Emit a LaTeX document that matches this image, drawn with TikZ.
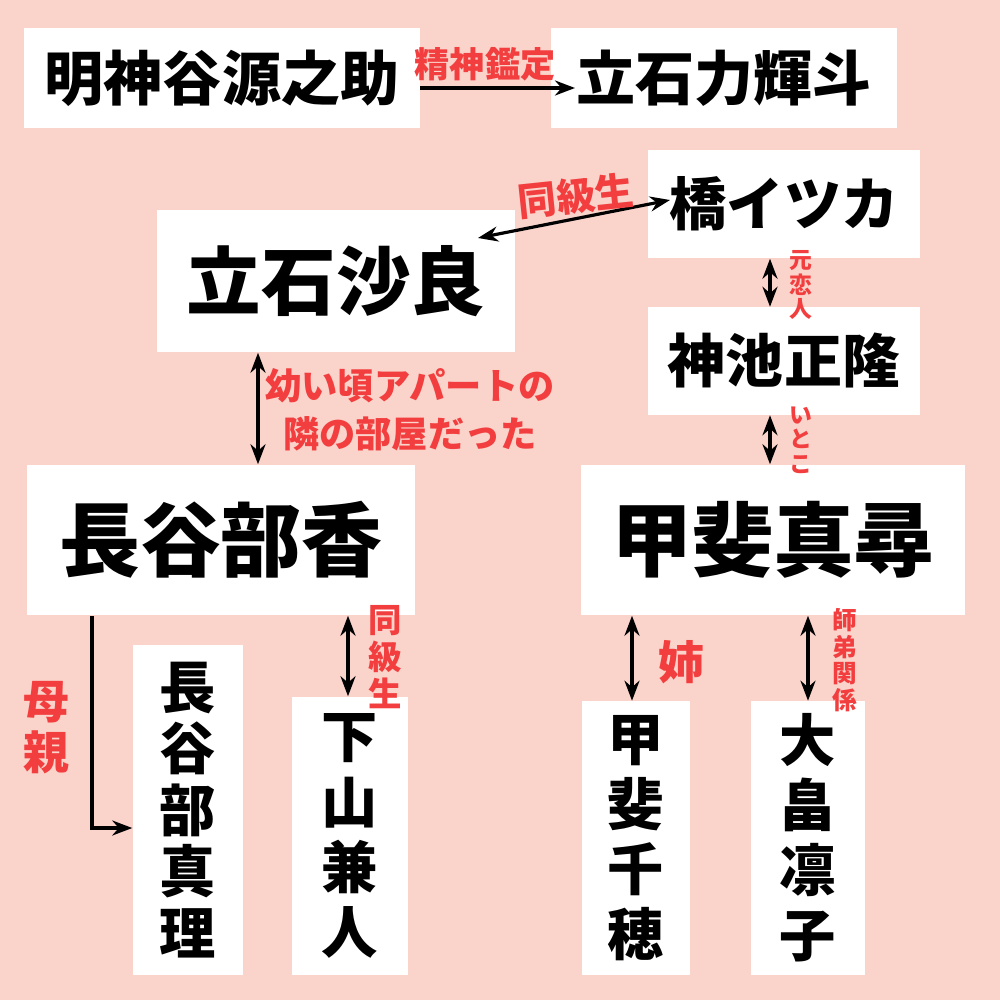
\documentclass[tikz,border=0pt]{standalone}
\usepackage{fontspec}
\setmainfont{Noto Sans CJK JP}
\usetikzlibrary{arrows.meta}
\definecolor{bgpink}{HTML}{FAD3CB}
\definecolor{tagred}{HTML}{F23E3E}
\tikzset{
  person/.style={fill=white, inner sep=0pt, font=\bfseries, align=center},
  tag/.style={text=tagred, font=\bfseries, inner sep=0pt, align=center},
  rel/.style={draw=black, line width=0.9pt, {Stealth[length=2mm]}-{Stealth[length=2mm]}},
  relone/.style={draw=black, line width=0.9pt, -{Stealth[length=2mm]}},
}
\begin{document}
\begin{tikzpicture}[x=0.01cm, y=-0.01cm]
  \fill[bgpink] (0,0) rectangle (1000,1000);
  \useasboundingbox (0,0) rectangle (1000,1000);

  % people
  \node[person, minimum width=3.95cm, minimum height=0.99cm, font=\bfseries\fontsize{16.8}{18}\selectfont] (myojin) at (222,78) {明神谷源之助};
  \node[person, minimum width=3.45cm, minimum height=1cm, font=\bfseries\fontsize{16.8}{18}\selectfont] (rikito) at (724,78) {立石力輝斗};
  \node[person, minimum width=2.72cm, minimum height=1.08cm, font=\bfseries\fontsize{16.3}{18}\selectfont] (itsuka) at (784,204) {橋イツカ};
  \node[person, minimum width=3.57cm, minimum height=1.42cm, font=\bfseries\fontsize{21.2}{23}\selectfont] (sara) at (336,281) {立石沙良};
  \node[person, minimum width=2.72cm, minimum height=1.07cm, font=\bfseries\fontsize{16.5}{18}\selectfont] (kamiike) at (784,361) {神池正隆};
  \node[person, minimum width=3.87cm, minimum height=1.5cm, font=\bfseries\fontsize{23}{25}\selectfont] (kaori) at (221,540) {長谷部香};
  \node[person, minimum width=3.83cm, minimum height=1.5cm, font=\bfseries\fontsize{23}{25}\selectfont] (mahiro) at (773,540) {甲斐真尋};
  \node[person, minimum width=1.1cm, minimum height=3.3cm, font=\bfseries\fontsize{16}{17.5}\selectfont] (mari) at (188,810) {長\\谷\\部\\真\\理};
  \node[person, minimum width=1.15cm, minimum height=2.78cm, font=\bfseries\fontsize{16}{18.5}\selectfont] (kaneto) at (350,836) {下\\山\\兼\\人};
  \node[person, minimum width=1.08cm, minimum height=2.73cm, font=\bfseries\fontsize{16}{18.5}\selectfont] (chiho) at (636,838) {甲\\斐\\千\\穂};
  \node[person, minimum width=1.13cm, minimum height=2.73cm, font=\bfseries\fontsize{16}{18.5}\selectfont] (rinko) at (808,838) {大\\畠\\凛\\子};

  % relations
  \coordinate (m1) at (420,88);
  \coordinate (r1) at (575,88);
  \draw[relone] (m1) -- (r1);
  \node[tag, font=\bfseries\fontsize{10}{11}\selectfont] (t1) at (485,64) {精神鑑定};
  \coordinate (s1) at (478,238);
  \coordinate (i1) at (670,200);
  \draw[rel] (s1) -- (i1);
  \node[tag, font=\bfseries\fontsize{11}{12}\selectfont, rotate=6] (t2) at (576,196) {同級生};
  \draw[rel] (itsuka.south -| 770,0) -- (kamiike.north -| 770,0);
  \node[tag, font=\bfseries\fontsize{6.5}{7}\selectfont] (t3) at (801,285) {元\\恋\\人};
  \draw[rel] (kamiike.south -| 770,0) -- (mahiro.north -| 770,0);
  \node[tag, font=\bfseries\fontsize{6.5}{7}\selectfont] (t4) at (801,440) {い\\と\\こ};
  \draw[rel] (sara.south -| 258,0) -- (kaori.north -| 258,0);
  \node[tag, font=\bfseries\fontsize{10.3}{13.5}\selectfont] (t5) at (410,410) {幼い頃アパートの\\隣の部屋だった};
  \coordinate (k1) at (92,828);
  \draw[relone] (kaori.south -| 92,0) -- (k1) -- (mari.west |- k1);
  \node[tag, font=\bfseries\fontsize{13}{14.5}\selectfont] (t6) at (46,728) {母\\親};
  \draw[rel] (kaori.south -| 348,0) -- (kaneto.north -| 348,0);
  \node[tag, font=\bfseries\fontsize{9.5}{10.5}\selectfont] (t7) at (385,657) {同\\級\\生};
  \draw[rel] (mahiro.south -| 632,0) -- (chiho.north -| 632,0);
  \node[tag, font=\bfseries\fontsize{13}{14}\selectfont] (t8) at (681,662) {姉};
  \draw[rel] (mahiro.south -| 808,0) -- (rinko.north -| 808,0);
  \node[tag, font=\bfseries\fontsize{7}{7.6}\selectfont] (t9) at (845,660) {師\\弟\\関\\係};
\end{tikzpicture}
\end{document}
